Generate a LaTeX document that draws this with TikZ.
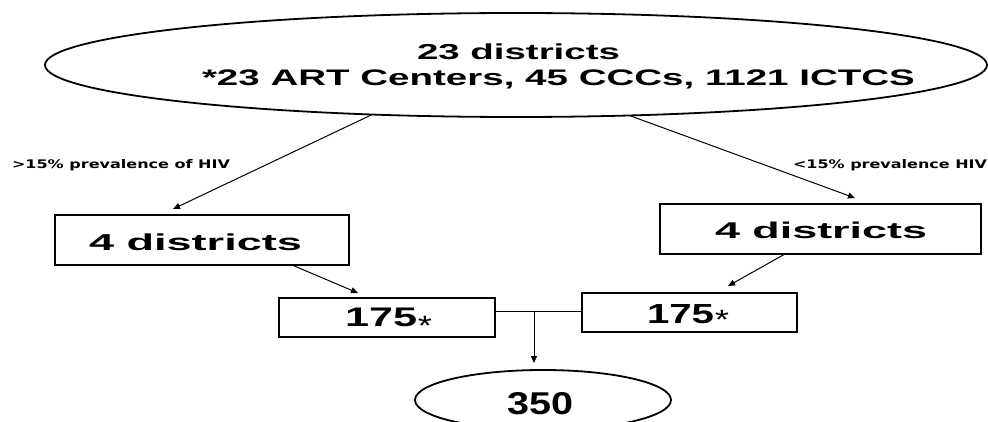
\documentclass[tikz,border=0pt]{standalone}
\usepackage{fontspec}
\setmainfont{Liberation Sans}
\newfontfamily\lblfont{DejaVu Sans}
\usetikzlibrary{arrows.meta,shapes.geometric,calc}
\newcommand{\fitbox}[3]{\resizebox{#1pt}{#2pt}{#3}}
\tikzset{
  ell/.style={draw, ellipse, line width=1.8pt, inner sep=0pt, outer sep=0pt},
  box/.style={draw, rectangle, line width=2pt, inner sep=0pt, outer sep=0pt},
  txt/.style={inner sep=0pt, outer sep=0pt, anchor=base west},
  conn/.style={line width=1pt},
  arr/.style={line width=1pt, -{Triangle[length=7pt,width=6pt]}}
}
\begin{document}
\begin{tikzpicture}[x=1pt,y=-1pt]
\useasboundingbox (0,0) rectangle (988,422);
% shapes
\node[ell, minimum width=942pt, minimum height=104pt] (top) at (516,65) {};
\node[box, minimum width=294pt, minimum height=50pt] (b1) at (202,240) {};
\node[box, minimum width=321pt, minimum height=50pt] (b2) at (820.5,229) {};
\node[box, minimum width=216pt, minimum height=39pt] (c1) at (387,317.5) {};
\node[box, minimum width=215pt, minimum height=39pt] (c2) at (689.5,312.5) {};
\node[ell, minimum width=256pt, minimum height=60pt] (e350) at (543,400) {};
% texts
\node[txt] (t1) at (417,60) {\fitbox{203}{15.7}{\bfseries 23 districts}};
\node[txt] (t2) at (202,86) {\fitbox{713}{15.7}{\bfseries *23 ART Centers, 45 CCCs, 1121 ICTCS}};
\node[txt] (t3) at (89,250) {\fitbox{213}{16.7}{\bfseries 4 districts}};
\node[txt] (t4) at (715,239) {\fitbox{212}{16.5}{\bfseries 4 districts}};
\node[txt] (t5) at (345,326) {\fitbox{72}{18.5}{\bfseries 175}};
\node[txt] (t6) at (647,323) {\fitbox{67}{19}{\bfseries 175}};
\node[txt] (t7) at (507,414) {\fitbox{66}{22}{\bfseries 350}};
\node[inner sep=0pt, anchor=base] (a1) at (425,335) {\fontsize{28}{28}\selectfont\scalebox{1.3}[1]{*}};
\node[inner sep=0pt, anchor=base] (a2) at (722,329) {\fontsize{28}{28}\selectfont\scalebox{1.3}[1]{*}};
\node[txt] (l1) at (12,169) {\lblfont\fitbox{218}{9}{\bfseries >15\% prevalence of HIV}};
\node[txt] (l2) at (793,169) {\lblfont\fitbox{194}{9}{\bfseries <15\% prevalence HIV}};
% connectors
\draw[arr] (top.199) -- ($(b1.north west)+(118,-6)$);
\draw[arr] (top.336) -- ($(b2.north west)+(195,-6)$);
\draw[arr] ($(b1.south east)+(-57,0)$) -- ($(c1.north west)+(79,-5)$);
\draw[arr] ($(b2.south west)+(125,0)$) -- ($(c2.north west)+(146,-7)$);
\coordinate (j) at (534,311);
\draw[conn] (c1.east |- j) -- (c2.west |- j);
\draw[arr, shorten >=7pt] (j) -- (j |- e350.north);
\end{tikzpicture}
\end{document}
